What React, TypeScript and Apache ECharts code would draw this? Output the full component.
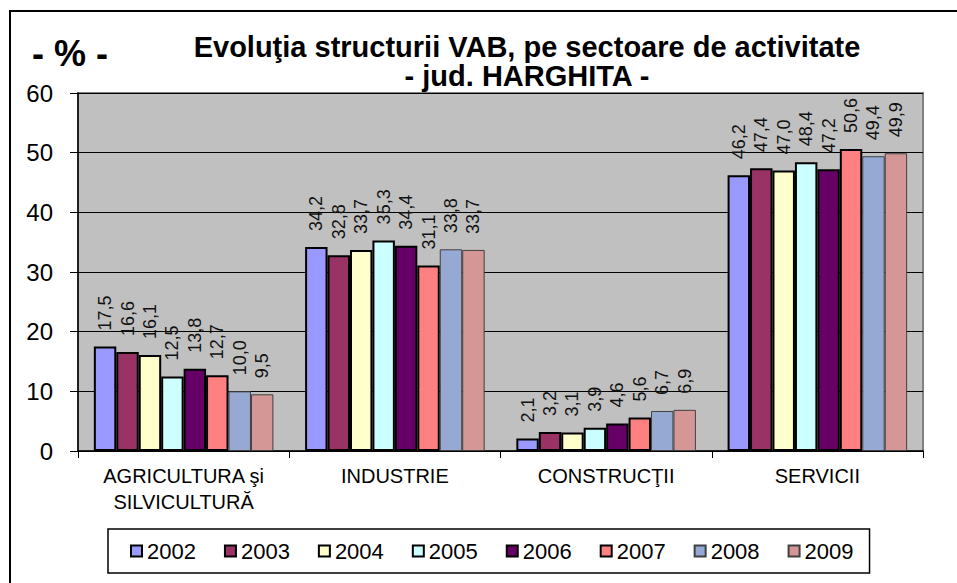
import React, { useEffect, useRef } from "react";
import * as echarts from "echarts";

const categories = ["AGRICULTURA şi\nSILVICULTURĂ", "INDUSTRIE", "CONSTRUCŢII", "SERVICII"];
const years = ["2002", "2003", "2004", "2005", "2006", "2007", "2008", "2009"];
const v2002 = [17.5, 34.2, 2.1, 46.2];
const v2003 = [16.6, 32.8, 3.2, 47.4];
const v2004 = [16.1, 33.7, 3.1, 47.0];
const v2005 = [12.5, 35.3, 3.9, 48.4];
const v2006 = [13.8, 34.4, 4.6, 47.2];
const v2007 = [12.7, 31.1, 5.6, 50.6];
const v2008 = [10.0, 33.8, 6.7, 49.4];
const v2009 = [9.5, 33.7, 6.9, 49.9];
const yTicks = [0, 10, 20, 30, 40, 50, 60];

const seriesValues = [v2002, v2003, v2004, v2005, v2006, v2007, v2008, v2009];
const colors = ["#9999FF", "#993366", "#FFFFCC", "#CCFFFF", "#660066", "#FF8080", "#95A9D3", "#D59696"];

const FONT = "'Liberation Sans', Arial, sans-serif";

export default function App() {
  const ref = useRef<HTMLDivElement>(null);
  useEffect(() => {
    if (!ref.current) return;
    const chart = echarts.init(ref.current, undefined, { renderer: "svg" });
    const series = years.map((y, i) => ({
      name: y,
      type: "bar",
      data: seriesValues[i],
      barGap: "0%",
      barCategoryGap: "15%",
      itemStyle: {
        color: colors[i],
        borderColor: i < 6 ? "#000" : "#404040",
        borderWidth: i < 6 ? 2 : 1,
      },
      label: {
        show: true,
        position: "top",
        rotate: 90,
        align: "left",
        verticalAlign: "middle",
        distance: 16,
        fontFamily: FONT,
        fontSize: 18,
        color: "#111",
        formatter: (p: any) => p.value.toFixed(1).replace(".", ","),
      },
    }));
    chart.setOption({
      animation: false,
      textStyle: { fontFamily: FONT },
      grid: {
        left: 78,
        right: 34,
        top: 93,
        bottom: 132,
        show: true,
        backgroundColor: "#C0C0C0",
        borderColor: "#808080",
        borderWidth: 2,
      },
      legend: {
        data: years,
        left: 108,
        top: 529,
        padding: [11, 16, 11, 22],
        itemGap: 28,
        itemWidth: 11,
        itemHeight: 11,
        borderColor: "#000",
        borderWidth: 1.5,
        backgroundColor: "#fff",
        icon: "rect",
        textStyle: { fontFamily: FONT, fontSize: 22, color: "#000" },
      },
      graphic: [
        {
          type: "rect",
          shape: { x: 10, y: 11, width: 1200, height: 1200 },
          style: { fill: "none", stroke: "#000", lineWidth: 2 },
          silent: true,
          z: -1,
        },
        {
          type: "text",
          x: 70,
          y: 53,
          style: {
            text: "- % -",
            fontFamily: FONT,
            fontWeight: "bold",
            fontSize: 36,
            fill: "#000",
            align: "center",
            verticalAlign: "middle",
          },
        },
        {
          type: "text",
          x: 527,
          y: 61,
          style: {
            text: "Evoluţia structurii VAB, pe sectoare de activitate\n- jud. HARGHITA -",
            fontFamily: FONT,
            fontWeight: "bold",
            fontSize: 29,
            lineHeight: 29,
            fill: "#000",
            align: "center",
            verticalAlign: "middle",
          },
        },
      ],
      xAxis: {
        type: "category",
        data: categories,
        axisLine: { lineStyle: { color: "#000", width: 1.5 } },
        axisTick: { show: true, length: 7, lineStyle: { color: "#000" } },
        axisLabel: {
          interval: 0,
          fontFamily: FONT,
          fontSize: 20,
          color: "#000",
          margin: 12,
          lineHeight: 26,
        },
      },
      yAxis: {
        type: "value",
        min: 0,
        max: 60,
        interval: 10,
        axisLine: { show: true, lineStyle: { color: "#000", width: 1.5 } },
        axisTick: { show: true, length: 8, lineStyle: { color: "#000" } },
        axisLabel: {
          fontFamily: FONT,
          fontSize: 24,
          color: "#000",
          margin: 25,
          formatter: (v: number) => (yTicks.includes(v) ? String(v) : ""),
        },
        splitLine: { lineStyle: { color: "#000", width: 1 } },
      },
      series,
    });
    return () => chart.dispose();
  }, []);
  return (
    <div
      ref={ref}
      style={{ position: "fixed", left: 0, top: 0, width: 957, height: 583, background: "#fff" }}
    />
  );
}
